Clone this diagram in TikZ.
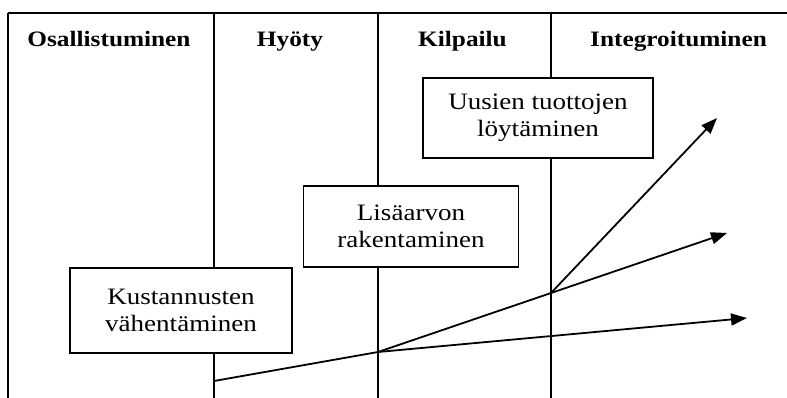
\documentclass[tikz,border=0pt]{standalone}
\usepackage{fontspec}
\setmainfont[FakeStretch=1.15]{Liberation Serif}
\usetikzlibrary{arrows.meta}
\begin{document}
\begin{tikzpicture}[x=1pt,y=-1pt,
  grid/.style={line width=1.3pt},
  hdr/.style={font=\fontsize{22}{26}\selectfont\bfseries, anchor=base},
  boxnode/.style={draw, line width=1.3pt, fill=white, align=center, inner sep=0pt,
    font=\fontsize{23.5}{27}\selectfont},
  arr/.style={line width=1.8pt, -{Triangle[length=16pt,width=12pt]}},
  seg/.style={line width=1.8pt}]
\useasboundingbox (0,0) rectangle (787,398);
% grid
\coordinate (tl) at (8,13);
\coordinate (tr) at (787,13);
\coordinate (c0t) at (8,13);   \coordinate (c0b) at (8,398);
\coordinate (c1t) at (214,13); \coordinate (c1b) at (214,398);
\coordinate (c2t) at (378,13); \coordinate (c2b) at (378,398);
\coordinate (c3t) at (551,13); \coordinate (c3b) at (551,398);
\draw[grid] (tl) -- (tr);
\draw[grid] (c0t) -- (c0b);
\draw[grid] (c1t) -- (c1b);
\draw[grid] (c2t) -- (c2b);
\draw[grid] (c3t) -- (c3b);
% headers
\node[hdr] (h1) at (109,47) {Osallistuminen};
\node[hdr] (h2) at (290,47) {Hyöty};
\node[hdr] (h3) at (462.5,47) {Kilpailu};
\node[hdr] (h4) at (678.5,47) {Integroituminen};
% boxes
\node[boxnode, minimum width=222pt, minimum height=85pt] (k) at (181,310.5) {Kustannusten\\vähentäminen};
\node[boxnode, minimum width=215pt, minimum height=81pt] (l) at (411,226.5) {Lisäarvon\\rakentaminen};
\node[boxnode, minimum width=230pt, minimum height=80pt] (u) at (538,118) {Uusien tuottojen\\löytäminen};
% arrows
\coordinate (s) at (214,381);
\coordinate (o) at (378,352);
\coordinate (m) at (551,293);
\coordinate (a1) at (717,118);
\coordinate (a2) at (727,233);
\coordinate (a3) at (747,318);
\draw[seg] (s) -- (o);
\draw[arr] (o) -- (a2);
\draw[arr] (m) -- (a1);
\draw[arr] (o) -- (a3);
\end{tikzpicture}
\end{document}
